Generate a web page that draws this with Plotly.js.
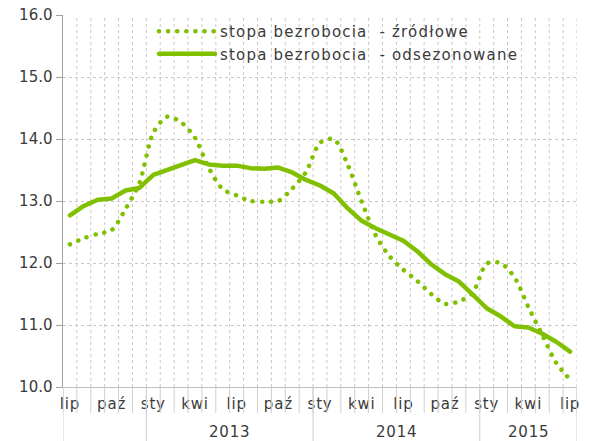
<!DOCTYPE html>
<html>
<head>
<meta charset="utf-8">
<script src="https://cdn.plot.ly/plotly-3.0.1.min.js"></script>
<style>
html,body{margin:0;padding:0;background:#fff;}
#chart{width:589px;height:441px;}
path.js-line{stroke-linecap:round;stroke-linejoin:round;}
.legendtext{letter-spacing:1.2px;}
.xtick text{letter-spacing:0.8px;}
.annotation-text{letter-spacing:0.8px;}
</style>
</head>
<body>
<div id="chart"></div>
<script>
// Months July 2012 – July 2015
const categories = [
  '2012-07','2012-08','2012-09','2012-10','2012-11','2012-12',
  '2013-01','2013-02','2013-03','2013-04','2013-05','2013-06',
  '2013-07','2013-08','2013-09','2013-10','2013-11','2013-12',
  '2014-01','2014-02','2014-03','2014-04','2014-05','2014-06',
  '2014-07','2014-08','2014-09','2014-10','2014-11','2014-12',
  '2015-01','2015-02','2015-03','2015-04','2015-05','2015-06','2015-07'
];
const tickLabels = [
  'lip','','','paź','','',
  'sty','','','kwi','','',
  'lip','','','paź','','',
  'sty','','','kwi','','',
  'lip','','','paź','','',
  'sty','','','kwi','','','lip'
];
const years = ['2013','2014','2015'];
const zrodlowe = [
  12.30,12.40,12.47,12.53,12.87,13.29,
  14.10,14.36,14.27,14.02,13.53,13.19,
  13.09,13.00,12.99,13.00,13.20,13.47,
  13.94,14.00,13.58,12.99,12.45,12.11,
  11.89,11.71,11.50,11.34,11.38,11.52,
  11.99,12.00,11.77,11.29,10.84,10.39,10.12
];
const odsezonowane = [
  12.77,12.92,13.02,13.04,13.17,13.21,
  13.42,13.50,13.58,13.66,13.59,13.57,
  13.57,13.53,13.52,13.54,13.46,13.34,
  13.25,13.12,12.88,12.68,12.56,12.46,
  12.36,12.19,11.98,11.82,11.70,11.49,
  11.27,11.14,10.98,10.96,10.86,10.73,10.57
];

const green = '#80C000';
const n = categories.length;

const shapes = [];
// dotted vertical gridlines at category boundaries
for (let k = 1; k <= n; k++) {
  shapes.push({type:'line', xref:'x', yref:'paper', x0:k-0.5, x1:k-0.5, y0:0, y1:1,
    line:{color:'#c8c8c8', width:1, dash:'dot'}, layer:'below'});
}
// tick separators under the axis
for (let k = 0; k <= n; k++) {
  shapes.push({type:'line', xref:'x', yref:'paper', x0:k-0.5, x1:k-0.5, y0:0, y1:-0.07,
    line:{color:'#cfcfcf', width:1}});
}
// year separators
const yearBounds = [];
categories.forEach((c, i) => { if (c.endsWith('-01')) yearBounds.push(i); });
[-0.5, ...yearBounds.map(i => i - 0.5), n - 0.5].forEach(b => {
  shapes.push({type:'line', xref:'x', yref:'paper', x0:b, x1:b, y0:0, y1:-0.15,
    line:{color:'#cfcfcf', width:1}});
});

// year labels centred in their spans
const annotations = years.map(y => {
  const idx = categories.map((c, i) => c.startsWith(y) ? i : -1).filter(i => i >= 0);
  return {xref:'x', yref:'paper', x:(idx[0] + idx[idx.length-1]) / 2, y:-0.12,
    text:y, showarrow:false, font:{family:'DejaVu Sans', size:15, color:'#3a3a3a'},
    xanchor:'center', yanchor:'middle'};
});

const traces = [
  {x:categories, y:zrodlowe, type:'scatter', mode:'lines',
   name:'stopa bezrobocia  - źródłowe',
   line:{color:green, width:4.5, dash:'0.1px,9px', shape:'spline', smoothing:0.8}},
  {x:categories, y:odsezonowane, type:'scatter', mode:'lines',
   name:'stopa bezrobocia  - odsezonowane',
   line:{color:green, width:4.5}}
];

const layout = {
  width:589, height:441,
  margin:{l:63, r:12, t:15, b:54},
  paper_bgcolor:'#ffffff', plot_bgcolor:'#ffffff',
  font:{family:'DejaVu Sans', color:'#3a3a3a', size:15},
  showlegend:true,
  legend:{x:0.177, y:1.0, xanchor:'left', yanchor:'top', bgcolor:'rgba(0,0,0,0)',
    itemwidth:56,
    font:{family:'DejaVu Sans', size:15, color:'#3a3a3a'}, tracegroupgap:0},
  xaxis:{type:'category', range:[-0.5, n-0.5], tickmode:'array',
    tickvals:categories, ticktext:tickLabels, showgrid:false, ticks:'',
    showline:true, linecolor:'#c0c0c0', linewidth:1, zeroline:false,
    tickfont:{family:'DejaVu Sans', size:15, color:'#3a3a3a'}, ticklabelstandoff:3},
  yaxis:{range:[10,16], dtick:1, tickformat:'.1f', showgrid:true,
    gridcolor:'#c8c8c8', griddash:'dot', gridwidth:1,
    showline:true, linecolor:'#a0a0a0', linewidth:1.5, ticks:'outside',
    ticklen:6, tickcolor:'#a0a0a0', zeroline:false,
    tickfont:{family:'DejaVu Sans', size:15, color:'#3a3a3a'}},
  shapes:shapes, annotations:annotations
};

Plotly.newPlot('chart', traces, layout, {displayModeBar:false, staticPlot:true});
</script>
</body>
</html>
